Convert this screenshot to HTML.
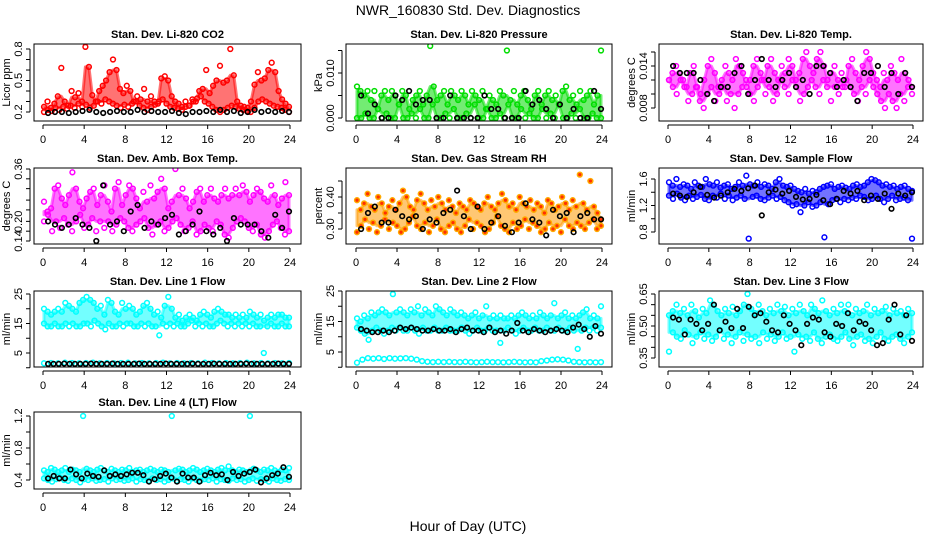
<!DOCTYPE html>
<html><head><meta charset="utf-8"><style>
html,body{margin:0;padding:0;background:#fff}
svg{display:block;font-family:"Liberation Sans",sans-serif}
</style></head><body>
<svg id="chart" width="936" height="540" viewBox="0 0 936 540">
<text x="468" y="15" text-anchor="middle" font-size="14">NWR_160830  Std. Dev. Diagnostics</text>
<text x="468" y="531" text-anchor="middle" font-size="14">Hour of Day (UTC)</text>
</svg>
<script>
// ---- data ----
const xTicks = [0,4,8,12,16,20,24];
const titles = ["Stan. Dev. Li-820 CO2","Stan. Dev. Li-820 Pressure","Stan. Dev. Li-820 Temp.","Stan. Dev. Amb. Box Temp.","Stan. Dev. Gas Stream RH","Stan. Dev. Sample Flow","Stan. Dev. Line 1 Flow","Stan. Dev. Line 2 Flow","Stan. Dev. Line 3 Flow","Stan. Dev. Line 4 (LT) Flow"];
const yTitles = ["Licor ppm","kPa","degrees C","degrees C","percent","ml/min","ml/min","ml/min","ml/min","ml/min"];

const co2Hi = [0.25,0.3,0.24,0.28,0.35,0.62,0.3,0.26,0.4,0.34,0.38,0.3,0.82,0.63,0.36,0.3,0.4,0.45,0.5,0.58,0.7,0.6,0.42,0.38,0.45,0.4,0.3,0.35,0.32,0.42,0.3,0.35,0.3,0.28,0.52,0.54,0.5,0.35,0.3,0.28,0.25,0.3,0.26,0.32,0.3,0.4,0.42,0.6,0.38,0.45,0.5,0.64,0.48,0.5,0.8,0.55,0.3,0.26,0.25,0.24,0.3,0.46,0.58,0.5,0.52,0.6,0.67,0.58,0.4,0.32,0.28,0.25];
const co2Lo = [0.2,0.22,0.21,0.24,0.22,0.25,0.23,0.26,0.24,0.28,0.25,0.27,0.24,0.26,0.3,0.28,0.32,0.3,0.28,0.26,0.24,0.27,0.25,0.28,0.3,0.26,0.24,0.22,0.25,0.27,0.3,0.32,0.28,0.25,0.24,0.23,0.22,0.25,0.26,0.3,0.33,0.35,0.3,0.28,0.25,0.22,0.2,0.22,0.24,0.26,0.25,0.23,0.22,0.21,0.2,0.24,0.3,0.32,0.3,0.28,0.26,0.25,0.24,0.22,0.2];
const co2Black = [0.19,0.2,0.2,0.19,0.2,0.21,0.22,0.2,0.19,0.2,0.21,0.2,0.2,0.22,0.2,0.21,0.2,0.2,0.21,0.19,0.18,0.2,0.2,0.21,0.2,0.22,0.2,0.21,0.19,0.2,0.22,0.2,0.21,0.2,0.21,0.2];

const presHi = [0.007,0.006,0.005,0.006,0.004,0.006,0.002,0.005,0.006,0.004,0.006,0.005,0.003,0.006,0.005,0.002,0.004,0.005,0.006,0.003,0.005,0.016,0.007,0.004,0.005,0.006,0.003,0.006,0.005,0.004,0.006,0.005,0.003,0.006,0.005,0.004,0.006,0.002,0.005,0.004,0.003,0.006,0.005,0.015,0.004,0.006,0.003,0.005,0.006,0.004,0.002,0.005,0.006,0.003,0.005,0.006,0.004,0.005,0.003,0.006,0.007,0.004,0.005,0.003,0.006,0.004,0.005,0.006,0.003,0.005,0.015];
const presLo = [0,0,0.001,0,0,0.002,0,0.001,0,0,0.003,0,0,0.001,0,0.002,0,0,0.003,0,0,0.001,0,0.002,0,0,0.001,0,0.003,0,0,0.002,0,0,0.001,0,0.003,0,0,0.002,0,0.001,0,0,0.002,0,0.001,0,0.003,0,0,0.001,0,0.002,0,0,0.001,0,0];
const presBlack = [0.005,0.001,0.003,0,0,0.005,0.004,0.006,0.003,0.004,0.004,0,0,0.005,0,0,0,0,0.005,0.002,0.002,0,0,0,0.006,0.003,0.004,0.002,0,0.003,0,0.002,0,0,0.006,0.002];

const tempHi = [0.012,0.013,0.014,0.013,0.012,0.011,0.013,0.014,0.011,0.01,0.012,0.014,0.015,0.013,0.011,0.012,0.014,0.013,0.012,0.015,0.014,0.013,0.011,0.012,0.014,0.015,0.013,0.012,0.014,0.015,0.013,0.012,0.014,0.013,0.015,0.014,0.012,0.013,0.015,0.016,0.014,0.013,0.015,0.016,0.014,0.012,0.013,0.014,0.012,0.013,0.011,0.014,0.015,0.013,0.012,0.014,0.016,0.015,0.013,0.012,0.011,0.013,0.012,0.014,0.013,0.012,0.015,0.013,0.012,0.011];
const tempLo = [0.012,0.011,0.01,0.012,0.011,0.009,0.01,0.011,0.009,0.008,0.01,0.011,0.009,0.01,0.011,0.009,0.01,0.008,0.01,0.011,0.012,0.01,0.009,0.011,0.012,0.01,0.011,0.009,0.01,0.012,0.011,0.01,0.012,0.011,0.009,0.01,0.011,0.012,0.011,0.01,0.012,0.011,0.009,0.011,0.01,0.011,0.012,0.011,0.01,0.009,0.011,0.01,0.012,0.011,0.01,0.009,0.008,0.01,0.009,0.008,0.01,0.009,0.011,0.01];
const tempBlack = [0.014,0.013,0.013,0.013,0.012,0.01,0.009,0.011,0.011,0.013,0.014,0.01,0.012,0.015,0.012,0.011,0.012,0.013,0.011,0.012,0.01,0.014,0.014,0.013,0.011,0.012,0.011,0.009,0.013,0.013,0.014,0.011,0.013,0.01,0.013,0.011];

const ambHi = [0.26,0.23,0.24,0.3,0.31,0.27,0.25,0.28,0.35,0.3,0.26,0.24,0.27,0.29,0.3,0.25,0.28,0.31,0.26,0.23,0.3,0.32,0.25,0.28,0.31,0.3,0.27,0.24,0.29,0.26,0.31,0.27,0.29,0.33,0.3,0.24,0.26,0.36,0.28,0.3,0.27,0.24,0.26,0.29,0.3,0.26,0.28,0.3,0.27,0.26,0.28,0.3,0.27,0.28,0.3,0.28,0.31,0.29,0.26,0.28,0.3,0.29,0.27,0.26,0.31,0.28,0.25,0.27,0.32,0.28];
const ambLo = [0.2,0.22,0.17,0.2,0.18,0.21,0.19,0.17,0.2,0.22,0.18,0.19,0.21,0.17,0.2,0.18,0.2,0.17,0.19,0.21,0.2,0.18,0.17,0.19,0.2,0.21,0.18,0.16,0.19,0.2,0.17,0.18,0.2,0.21,0.19,0.17,0.18,0.2,0.16,0.17,0.19,0.18,0.17,0.2,0.19,0.16,0.15,0.18,0.2,0.21,0.2,0.18,0.17,0.19,0.16,0.15,0.17,0.19,0.2,0.18,0.16,0.17];
const ambBlack = [0.2,0.19,0.18,0.19,0.21,0.19,0.18,0.14,0.31,0.19,0.2,0.17,0.23,0.25,0.18,0.2,0.19,0.21,0.22,0.16,0.17,0.19,0.23,0.17,0.16,0.18,0.14,0.21,0.19,0.19,0.19,0.17,0.15,0.22,0.18,0.23];

const rhHi = [0.39,0.36,0.38,0.41,0.37,0.36,0.4,0.38,0.35,0.37,0.39,0.36,0.38,0.42,0.4,0.37,0.36,0.39,0.41,0.38,0.36,0.39,0.37,0.4,0.38,0.36,0.39,0.37,0.35,0.38,0.37,0.36,0.39,0.38,0.37,0.36,0.38,0.4,0.37,0.36,0.38,0.41,0.39,0.37,0.38,0.36,0.4,0.38,0.37,0.39,0.36,0.38,0.37,0.35,0.39,0.38,0.36,0.37,0.4,0.38,0.36,0.39,0.37,0.47,0.38,0.36,0.45,0.37,0.35,0.33];
const rhLo = [0.29,0.31,0.33,0.3,0.32,0.29,0.31,0.33,0.3,0.32,0.31,0.29,0.3,0.32,0.34,0.31,0.3,0.32,0.29,0.31,0.33,0.3,0.29,0.31,0.32,0.3,0.29,0.31,0.33,0.3,0.32,0.31,0.29,0.3,0.32,0.34,0.31,0.3,0.29,0.32,0.3,0.31,0.33,0.3,0.32,0.31,0.29,0.3,0.32,0.3,0.31,0.29,0.33,0.31,0.3,0.32,0.31,0.3,0.32,0.33,0.3,0.31];
const rhBlack = [0.3,0.35,0.37,0.32,0.32,0.36,0.34,0.33,0.34,0.3,0.33,0.32,0.35,0.36,0.42,0.34,0.3,0.37,0.3,0.32,0.34,0.31,0.29,0.32,0.38,0.33,0.32,0.28,0.36,0.34,0.35,0.29,0.34,0.35,0.33,0.33];

const flowHi = [1.55,1.5,1.6,1.48,1.52,1.5,1.45,1.55,1.5,1.48,1.6,1.52,1.5,1.55,1.47,1.5,1.52,1.45,1.48,1.55,1.5,1.65,1.52,1.5,1.55,1.48,1.52,1.5,1.45,1.55,1.6,1.5,1.48,1.5,1.45,1.42,1.4,1.45,1.38,1.42,1.4,1.45,1.48,1.5,1.52,1.45,1.48,1.5,1.47,1.45,1.5,1.52,1.48,1.5,1.55,1.6,1.58,1.55,1.5,1.52,1.48,1.5,1.45,1.48,1.5,1.45,1.42];
const flowLo = [1.35,1.3,1.38,1.32,1.28,1.35,1.3,1.33,1.36,1.3,1.28,1.35,1.32,1.38,1.3,1.35,1.28,1.32,1.35,1.3,0.7,1.33,1.35,1.3,1.28,1.32,1.35,1.3,1.33,1.28,1.25,1.2,1.22,1.1,1.2,1.25,1.18,1.2,1.25,0.72,1.22,1.28,1.3,1.25,1.3,1.28,1.32,1.3,1.35,1.33,1.28,1.3,1.35,1.3,1.25,1.3,1.35,1.28,1.3,1.32,1.28,0.7];
const flowBlack = [1.38,1.35,1.33,1.4,1.48,1.36,1.32,1.35,1.4,1.45,1.42,1.46,1.5,1.05,1.4,1.44,1.38,1.42,1.33,1.29,1.3,1.36,1.28,1.22,1.3,1.42,1.38,1.42,1.28,1.35,1.3,1.38,1.15,1.38,1.35,1.4];

const l1Hi = [20,19,18,19,20,19,22,21,20,19,22,23,24,23,22,20,21,18,23,22,19,18,22,20,21,20,18,19,21,22,20,18,19,17,21,24,20,17,18,16,17,18,17,16,18,19,18,17,19,20,19,18,18,17,18,17,18,17,19,18,17,18,16,17,18,17,18,18,17,17];
const l1Lo = [15,14,14,15,14,14,15,14,15,14,14,15,15,14,16,15,14,13,15,14,14,15,14,15,15,14,14,15,14,15,14,14,11,15,14,15,14,15,14,14,15,16,14,15,14,15,14,14,15,16,15,14,15,14,15,14,15,14,15,14,14,5,14,15,14,14,15,14,14];
const l1Base = [1.5,1.6,1.5,1.7,1.6,1.5,1.6,1.7,1.5,1.6,1.5,1.6,1.7,1.5,1.6,1.5,1.6,1.7,1.5,1.6,1.5,1.6,1.5,1.7,1.6,1.5,1.6,1.5,1.6,1.7,1.5,1.6,1.5,1.6,1.5,1.6];
const l1Black = [1.3,1.3,1.3,1.4,1.3,1.3,1.3,1.3,1.4,1.3,1.3,1.3,1.4,1.3,1.3,1.3,1.3,1.4,1.3,1.3,1.3,1.3,1.4,1.3,1.3,1.3,1.3,1.4,1.3,1.3,1.3,1.4,1.3,1.3,1.3,1.3,1.3,1.4,1.3,1.3,1.3,1.3,1.3,1.4,1.3,1.3];

const l2Hi = [16,15,17,16,18,17,18,19,18,17,24,18,19,18,17,19,18,20,17,19,18,17,20,19,18,17,19,18,17,18,17,16,17,18,16,17,20,16,17,16,17,16,16,17,16,17,18,17,16,17,16,18,17,16,17,21,16,17,18,16,17,16,17,18,19,16,17,16,20];
const l2Lo = [13,12,11,9,12,13,12,11,12,13,12,13,12,12,13,12,11,13,12,12,13,12,12,13,12,12,12,13,12,11,12,13,12,12,13,12,12,8,12,13,12,11,12,13,12,12,13,12,12,13,12,12,13,12,12,13,12,6,12,13,12,13,12,13];
const l2Base = [1.5,2.5,3,2.8,3,2.7,3,2.8,2.9,3,2.8,2.5,2,1.8,1.7,1.8,1.7,1.8,1.7,1.7,1.8,1.7,1.6,1.7,1.8,1.7,1.7,1.6,1.7,1.8,1.7,1.6,1.7,1.6,2,2.2,2.5,2.6,2.5,2.2,1.8,1.7,1.6,1.7,1.6,1.7];
const l2Black = [12.5,12,11.5,11.5,12,11.5,12,13,12.5,13,12.5,12,12,12.5,12,12,12.5,11.5,12.5,13,12,12,11.5,13,11.5,12,11,12,14.5,12,11.5,12.5,12,11.5,12,12.5,12,11.5,13,14,12.5,10,13.5,11];

const l3Hi = [0.55,0.57,0.6,0.56,0.58,0.55,0.6,0.57,0.54,0.58,0.56,0.62,0.6,0.57,0.55,0.58,0.56,0.59,0.55,0.57,0.6,0.65,0.58,0.56,0.6,0.57,0.55,0.58,0.56,0.6,0.57,0.59,0.55,0.58,0.56,0.6,0.57,0.55,0.6,0.58,0.56,0.62,0.57,0.55,0.58,0.56,0.6,0.57,0.6,0.55,0.58,0.56,0.57,0.6,0.55,0.58,0.56,0.57,0.59,0.55,0.58,0.56,0.57,0.55,0.58,0.56];
const l3Lo = [0.38,0.47,0.45,0.44,0.48,0.46,0.42,0.45,0.47,0.44,0.46,0.43,0.45,0.48,0.44,0.46,0.42,0.45,0.47,0.43,0.46,0.44,0.45,0.42,0.47,0.44,0.46,0.43,0.45,0.47,0.44,0.45,0.38,0.46,0.44,0.45,0.43,0.47,0.44,0.42,0.45,0.46,0.44,0.43,0.45,0.47,0.44,0.41,0.45,0.46,0.43,0.44,0.42,0.45,0.47,0.44,0.43,0.45,0.46,0.44,0.42,0.45,0.47];
const l3Black = [0.54,0.53,0.46,0.53,0.51,0.48,0.51,0.6,0.48,0.52,0.49,0.58,0.49,0.59,0.55,0.56,0.52,0.48,0.47,0.55,0.51,0.48,0.41,0.51,0.54,0.53,0.47,0.45,0.51,0.5,0.56,0.48,0.52,0.51,0.48,0.41,0.42,0.53,0.6,0.46,0.55,0.43];

const l4Hi = [0.52,0.5,0.55,0.53,0.5,0.52,0.55,0.5,0.53,0.52,0.5,1.2,0.54,0.52,0.5,0.53,0.55,0.52,0.5,0.54,0.52,0.5,0.53,0.52,0.55,0.5,0.52,0.53,0.5,0.52,0.54,0.52,0.5,0.53,0.52,0.5,1.2,0.52,0.54,0.53,0.5,0.52,0.55,0.53,0.5,0.52,0.54,0.52,0.5,0.53,0.55,0.52,0.57,0.52,0.5,0.53,0.52,0.5,1.2,0.54,0.52,0.5,0.53,0.52,0.55,0.52,0.5,0.53,0.52,0.55];
const l4Lo = [0.42,0.4,0.38,0.41,0.43,0.4,0.39,0.42,0.4,0.37,0.41,0.4,0.42,0.39,0.4,0.41,0.38,0.42,0.4,0.41,0.39,0.4,0.42,0.38,0.41,0.4,0.39,0.42,0.4,0.41,0.38,0.4,0.42,0.39,0.41,0.4,0.38,0.42,0.4,0.39,0.41,0.4,0.42,0.38,0.41,0.4,0.39,0.42,0.4,0.41,0.38,0.4,0.42,0.39,0.41,0.4,0.38,0.42,0.4,0.39,0.41,0.4];
const l4Black = [0.42,0.45,0.42,0.42,0.53,0.47,0.42,0.48,0.45,0.44,0.52,0.45,0.47,0.45,0.47,0.49,0.49,0.46,0.38,0.41,0.45,0.48,0.43,0.38,0.48,0.43,0.43,0.38,0.46,0.49,0.46,0.47,0.4,0.5,0.45,0.48,0.5,0.53,0.37,0.42,0.46,0.48,0.56,0.44];

// ---- layout ----
const colX = [[34,301,43,290],[346,612,356,602],[659,923,668,913]];
const rowY = [[44,121],[168,244],[291,367],[412,489]];
const panels = [
 {c:0,r:0,ymin:0.2,yminPx:112,ymax:0.8,ymaxPx:49,ticks:[0.2,0.3,0.4,0.5,0.6,0.7,0.8],labels:["0.2","","","0.5","","","0.8"],series:[[co2Hi,"#ff0000",0],[co2Lo,"#ff0000",0],[co2Black,"#000",1]],bands:[[co2Hi,co2Lo,"#ff0000"]]},
 {c:1,r:0,ymin:0,yminPx:118,ymax:0.01,ymaxPx:73,ticks:[0,0.005,0.01,0.015],labels:["0.000","","0.010",""],series:[[presHi,"#00dd00",0],[presLo,"#00dd00",0],[presBlack,"#000",1]],bands:[[presHi,presLo,"#00dd00"]]},
 {c:2,r:0,ymin:0.008,yminPx:108,ymax:0.014,ymaxPx:66,ticks:[0.008,0.01,0.012,0.014,0.016],labels:["0.008","","","0.014",""],series:[[tempHi,"#ff00ff",0],[tempLo,"#ff00ff",0],[tempBlack,"#000",1]],bands:[[tempHi,tempLo,"#ff00ff"]]},
 {c:0,r:1,ymin:0.14,yminPx:241,ymax:0.36,ymaxPx:169,ticks:[0.14,0.17,0.2,0.235,0.265,0.3,0.33,0.36],labels:["0.14","","0.20","","","","","0.36"],series:[[ambHi,"#ff00ff",0],[ambLo,"#ff00ff",0],[ambBlack,"#000",1]],bands:[[ambHi,ambLo,"#ff00ff"]]},
 {c:1,r:1,ymin:0.3,yminPx:229,ymax:0.4,ymaxPx:197,ticks:[0.3,0.35,0.4,0.45],labels:["0.30","","0.40",""],series:[[rhHi,"#ffaa00",2],[rhLo,"#ffaa00",2],[rhBlack,"#000",1]],bands:[[rhHi,rhLo,"#ff9900"]]},
 {c:2,r:1,ymin:0.8,yminPx:232,ymax:1.6,ymaxPx:179,ticks:[0.8,1.0,1.2,1.4,1.6],labels:["0.8","","1.2","","1.6"],series:[[flowHi,"#0000ff",0],[flowLo,"#0000ff",0],[flowBlack,"#000",1]],bands:[[flowHi,flowLo,"#0000ff"]]},
 {c:0,r:2,ymin:5,yminPx:353,ymax:25,ymaxPx:294,ticks:[0,5,10,15,20,25],labels:["","5","","15","","25"],series:[[l1Hi,"#00ffff",0],[l1Lo,"#00ffff",0],[l1Base,"#00ffff",0],[l1Black,"#000",1]],bands:[[l1Hi,l1Lo,"#00ffff"]]},
 {c:1,r:2,ymin:5,yminPx:352,ymax:25,ymaxPx:291,ticks:[0,5,10,15,20,25],labels:["","5","","15","","25"],series:[[l2Hi,"#00ffff",0],[l2Lo,"#00ffff",0],[l2Base,"#00ffff",0],[l2Black,"#000",1]],bands:[[l2Hi,l2Lo,"#00ffff"]]},
 {c:2,r:2,ymin:0.35,yminPx:358,ymax:0.65,ymaxPx:294,ticks:[0.35,0.4,0.45,0.5,0.55,0.6,0.65],labels:["0.35","","","0.50","","","0.65"],series:[[l3Hi,"#00ffff",0],[l3Lo,"#00ffff",0],[l3Black,"#000",1]],bands:[[l3Hi,l3Lo,"#00ffff"]]},
 {c:0,r:3,ymin:0.4,yminPx:480,ymax:1.2,ymaxPx:416,ticks:[0.4,0.6,0.8,1.0,1.2],labels:["0.4","","0.8","","1.2"],series:[[l4Hi,"#00ffff",0],[l4Lo,"#00ffff",0],[l4Black,"#000",1]],bands:[[l4Hi,l4Lo,"#00ffff"]]}
];
const NS="http://www.w3.org/2000/svg";
const svg=document.getElementById('chart');
function mk(tag,attrs,parent){const e=document.createElementNS(NS,tag);for(const k in attrs)e.setAttribute(k,attrs[k]);parent.appendChild(e);return e;}
// clip isolated spikes (neighbours only, self excluded) so the band shows the dense part of the cloud
function nb(a,i){const r=[];if(i>0)r.push(a[i-1]);if(i<a.length-1)r.push(a[i+1]);return r;}
function capHi(a){return a.map((v,i)=>Math.min(v,Math.max(...nb(a,i))));}
function capLo(a){return a.map((v,i)=>Math.max(v,Math.min(...nb(a,i))));}
panels.forEach((p,pi)=>{
  const [bx0,bx1,ax0,ax24]=colX[p.c];const [by0,by1]=rowY[p.r];
  const xs=h=>ax0+(ax24-ax0)*h/24;
  const ys=v=>p.yminPx+(p.ymaxPx-p.yminPx)*(v-p.ymin)/(p.ymax-p.ymin);
  const hAt=(i,n)=>0.1+23.8*i/(n-1);
  const g=mk('g',{},svg);
  
  
  const clip=mk('clipPath',{id:'cp'+pi},g);
  mk('rect',{x:bx0,y:by0,width:bx1-bx0,height:by1-by0},clip);
  const pts=mk('g',{'clip-path':'url(#cp'+pi+')'},g);
  
  
  p.bands.forEach(([hi,lo,col])=>{
    const h2=capHi(hi), l2=capLo(lo);
    const up=h2.map((v,i)=>xs(hAt(i,h2.length)).toFixed(1)+','+ys(v).toFixed(1));
    const dn=l2.map((v,i)=>xs(hAt(i,l2.length)).toFixed(1)+','+ys(v).toFixed(1)).reverse();
    const band=mk('polygon',{points:up.concat(dn).join(' '),fill:col,'fill-opacity':0.55,stroke:col,'stroke-width':3,'stroke-opacity':0.55,'stroke-linejoin':'round'},pts);
    
    
  });
  p.series.forEach(([vals,col,kind])=>{
    const n=vals.length;
    vals.forEach((v,i)=>{
      const h = kind===1 ? 0.5+23.4*i/(n-1) : hAt(i,n);
      const c=mk('circle',{cx:xs(h).toFixed(1),cy:ys(v).toFixed(1),r:kind===1?2.3:2.4,fill:kind===2?'#ff3000':'none',stroke:col,'stroke-width':kind===1?1.6:1.5},pts);
      
      
    });
  });
  const box=mk('rect',{x:bx0,y:by0,width:bx1-bx0,height:by1-by0,fill:'none',stroke:'#000','stroke-width':1},g);
  
  
  const t=mk('text',{x:(bx0+bx1)/2,y:by0-6,'text-anchor':'middle','font-size':11,'font-weight':'bold'},g);
  t.textContent=titles[pi];
  
  
  mk('line',{x1:ax0,x2:ax24,y1:by1+4,y2:by1+4,stroke:'#000'},g);
  xTicks.forEach(h=>{
    mk('line',{x1:xs(h),x2:xs(h),y1:by1+4,y2:by1+8,stroke:'#000'},g);
    const tl=mk('text',{x:xs(h),y:by1+22,'text-anchor':'middle','font-size':11},g);
    tl.textContent=h;
    
    
  });
  const ax=bx0-4;
  const tpx=p.ticks.map(ys);
  mk('line',{x1:ax,x2:ax,y1:Math.min(...tpx),y2:Math.max(...tpx),stroke:'#000'},g);
  p.ticks.forEach((v,i)=>{
    const y=ys(v);
    mk('line',{x1:ax-4,x2:ax,y1:y,y2:y,stroke:'#000'},g);
    if(p.labels[i]){
      const yl=mk('text',{x:ax-8,y:y,'text-anchor':'middle','font-size':11,transform:`rotate(-90 ${ax-8} ${y})`},g);
      yl.textContent=p.labels[i];
      
      
    }
  });
  const cy=(by0+by1)/2;
  const yt=mk('text',{x:bx0-24,y:cy,'text-anchor':'middle','font-size':11,transform:`rotate(-90 ${bx0-24} ${cy})`},g);
  yt.textContent=yTitles[pi];
  
  
});
</script>
</body></html>
